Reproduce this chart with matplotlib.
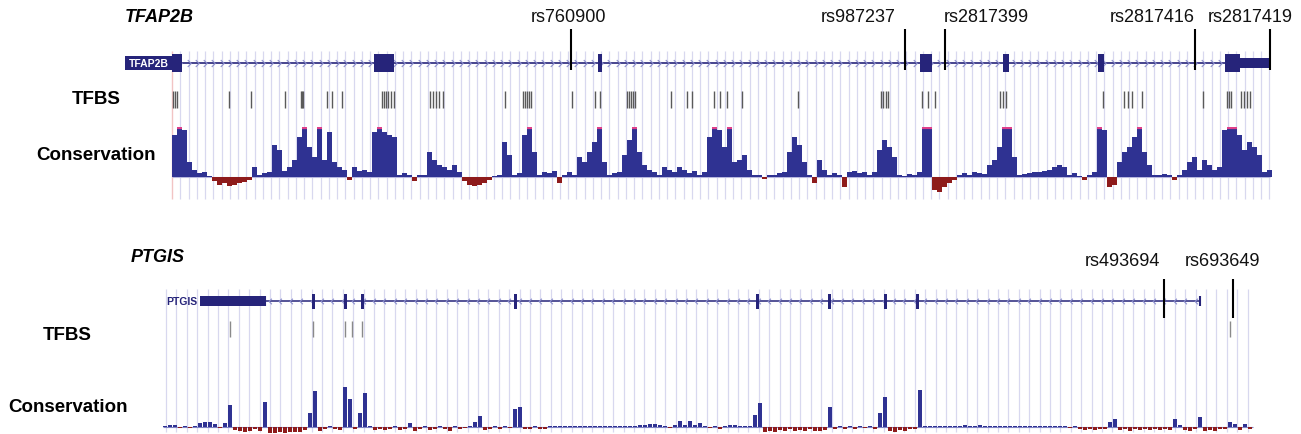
import numpy as np
import matplotlib
matplotlib.use('Agg')
import matplotlib.pyplot as plt
from matplotlib.path import Path

plt.rcParams['font.family'] = ['Liberation Sans', 'DejaVu Sans']

W, H = 1301, 435

# ---------------- data (track position units) ----------------
# TFAP2B
tf_region = (172, 1270)
tf_exons = [(172, 10), (374, 20), (598, 4), (920, 12), (1003, 6), (1098, 6), (1225, 15)]
tf_utr = [(1240, 30)]
tf_snp_names = ['rs760900', 'rs987237', 'rs2817399', 'rs2817416', 'rs2817419']
tf_snp_pos = [571, 905, 945, 1195, 1270]
tf_tfbs = [173, 175, 177, 229, 251, 285, 301, 302, 303, 327, 332, 342,
           382, 384, 386, 388, 391, 394, 430, 433, 436, 439, 443, 505,
           523, 525, 527, 529, 531, 572, 595, 600, 627, 629, 631, 633, 635,
           671, 687, 692, 714, 720, 727, 742, 798, 881, 883, 886, 888,
           922, 928, 935, 1000, 1003, 1006, 1103, 1124, 1128, 1132, 1142,
           1203, 1227, 1229, 1231, 1241, 1244, 1247, 1250]
tf_cons_start = 172
tf_cons_bin = 5
tf_cons = [0.85, 1.0, 0.95, 0.3, 0.15, 0.08, 0.1, 0.03, -0.08, -0.15,
           -0.12, -0.18, -0.15, -0.12, -0.1, -0.05, 0.2, 0.05, 0.08, 0.1,
           0.65, 0.55, 0.12, 0.2, 0.35, 0.8, 1.0, 0.6, 0.4, 1.0,
           0.35, 0.9, 0.3, 0.2, 0.15, -0.05, 0.2, 0.12, 0.15, 0.1,
           0.9, 1.0, 0.9, 0.85, 0.8, 0.05, 0.08, 0.05, -0.08, 0.05,
           0.04, 0.5, 0.35, 0.25, 0.2, 0.15, 0.25, 0.1, -0.08, -0.15,
           -0.18, -0.15, -0.12, -0.05, 0.03, 0.05, 0.7, 0.45, 0.05, 0.08,
           0.85, 1.0, 0.5, 0.05, 0.1, 0.08, 0.12, -0.12, 0.05, 0.1,
           0.05, 0.4, 0.3, 0.5, 0.7, 1.0, 0.3, 0.05, 0.08, 0.1,
           0.45, 0.75, 1.0, 0.5, 0.25, 0.15, 0.1, 0.05, 0.2, 0.15,
           0.1, 0.2, 0.15, 0.08, 0.12, 0.05, 0.1, 0.8, 1.0, 0.95,
           0.6, 1.0, 0.3, 0.35, 0.45, 0.15, 0.05, 0.05, -0.03, 0.04,
           0.05, 0.08, 0.1, 0.5, 0.8, 0.65, 0.3, 0.05, -0.12, 0.35,
           0.15, 0.05, 0.08, 0.05, -0.2, 0.1, 0.12, 0.08, 0.1, 0.05,
           0.1, 0.55, 0.75, 0.6, 0.4, 0.05, 0.03, 0.06, 0.05, 0.1,
           1.0, 1.0, -0.25, -0.3, -0.2, -0.12, -0.05, 0.05, 0.08, 0.05,
           0.1, 0.08, 0.06, 0.25, 0.35, 0.6, 1.0, 1.0, 0.4, 0.05,
           0.06, 0.08, 0.1, 0.1, 0.12, 0.15, 0.2, 0.25, 0.2, 0.05,
           0.08, 0.03, -0.05, 0.05, 0.1, 1.0, 0.95, -0.2, -0.15, 0.3,
           0.5, 0.6, 0.8, 1.0, 0.5, 0.25, 0.05, 0.04, 0.06, 0.05,
           -0.05, 0.05, 0.15, 0.3, 0.4, 0.15, 0.35, 0.25, 0.15, 0.2,
           0.95, 1.0, 1.0, 0.85, 0.55, 0.7, 0.6, 0.45, 0.1, 0.15]

# PTGIS
pt_region = (200, 1200)
pt_utr = [(200, 65)]
pt_exons = [313, 345, 362, 515, 757, 829, 885, 917]
pt_snp_names = ['rs493694', 'rs693649']
pt_snp_pos = [1164, 1233]
pt_tfbs = [230, 313, 345, 352, 362, 1230]
pt_cons_start = 163
pt_cons_bin = 5
pt_cons = [0.02, 0.05, 0.04, -0.03, 0.02, -0.02, 0.02, 0.1, 0.12, 0.12,
           0.08, -0.03, 0.1, 0.55, -0.08, -0.1, -0.12, -0.1, -0.06, -0.1,
           0.62, -0.14, -0.15, -0.13, -0.15, -0.12, -0.13, -0.12, -0.08, 0.35,
           0.9, -0.1, -0.06, 0.03, -0.06, -0.08, 1.0, 0.7, -0.05, 0.35,
           0.85, 0.03, -0.07, -0.05, -0.08, -0.06, 0.03, -0.08, -0.04, 0.1,
           -0.1, -0.04, 0.02, -0.08, -0.05, 0.03, -0.06, -0.1, 0.02, -0.06,
           -0.03, 0.03, 0.12, 0.28, -0.08, -0.05, 0.02, -0.04, 0.03, -0.03,
           0.45, 0.5, -0.06, -0.05, 0.02, -0.05, -0.04, 0.03, 0.02, 0.03,
           0.02, 0.03, 0.02, 0.03, 0.03, 0.02, 0.03, 0.03, 0.02, 0.03,
           0.03, 0.02, 0.03, 0.02, 0.03, 0.04, 0.06, 0.08, 0.07, 0.05,
           0.03, -0.03, 0.05, 0.15, 0.04, 0.15, 0.05, 0.1, 0.02, -0.03,
           0.02, -0.04, 0.03, 0.05, 0.04, 0.02, 0.03, 0.02, 0.3, 0.6,
           -0.12, -0.1, -0.12, -0.08, -0.1, -0.06, -0.1, -0.07, -0.1, -0.06,
           -0.09, -0.1, -0.08, 0.5, -0.05, 0.02, -0.04, 0.03, -0.05, 0.02,
           -0.03, 0.03, -0.06, 0.35, 0.75, -0.1, -0.12, -0.08, -0.1, -0.06,
           -0.05, 0.92, 0.03, 0.02, 0.03, 0.02, 0.03, 0.03, 0.02, 0.03,
           0.04, 0.03, 0.02, 0.04, 0.03, 0.03, 0.02, 0.03, 0.02, 0.03,
           0.03, 0.02, 0.02, 0.03, 0.02, 0.03, 0.02, 0.02, 0.03, 0.02,
           0.02, -0.03, 0.02, -0.05, -0.08, -0.05, -0.07, -0.04, -0.06, 0.12,
           0.2, -0.08, -0.06, -0.09, -0.05, -0.08, -0.06, -0.08, -0.05, -0.07,
           -0.04, -0.08, 0.2, 0.05, -0.08, -0.1, -0.06, 0.25, -0.1, -0.08,
           -0.1, -0.06, -0.04, 0.12, 0.08, -0.08, 0.07, -0.05]

# ---------------- style ----------------
NAVY = '#26247a'
CONS_POS = '#2f3292'
CONS_NEG = '#8e1b1b'
GRID = '#d8d8ef'
CHEV = '#8c8fcc'
SAT = '#e0408a'

fig = plt.figure(figsize=(W / 100, H / 100), dpi=100)


def px_axes(x0, y0, x1, y1):
    ax = fig.add_axes([x0 / W, 1 - y1 / H, (x1 - x0) / W, (y1 - y0) / H])
    ax.set_axis_off()
    ax.patch.set_alpha(0)
    return ax


def ftext(x, y, s, **kw):
    fig.text(x / W, 1 - y / H, s, **kw)


chev_right = Path([(-0.5, 1), (0.5, 0), (-0.5, -1)], [Path.MOVETO, Path.LINETO, Path.LINETO])
chev_left = Path([(0.5, 1), (-0.5, 0), (0.5, -1)], [Path.MOVETO, Path.LINETO, Path.LINETO])

# ================= TFAP2B panel =================
ax = px_axes(0, 0, W, 215)
ax.set_xlim(0, W)
ax.set_ylim(215, 0)
grid_tf = np.arange(tf_region[0] + 8.25, tf_region[1] + 1, 8.25)
ax.vlines(grid_tf, 52, 200, color=GRID, lw=0.9, zorder=0)
ax.vlines(tf_region[0], 52, 200, color='#f2c4c4', lw=1.0, zorder=0)
# gene
ax.hlines(64, tf_region[0], tf_region[1], color=NAVY, lw=1.2, zorder=2)
chev_x = grid_tf[grid_tf < tf_region[1] - 30]
ax.plot(chev_x, np.full(len(chev_x), 64),
        ls='none', marker=chev_right, ms=5, mfc='none', mec=CHEV, mew=0.8, zorder=2)
ax.broken_barh(tf_exons, (55, 18), facecolor=NAVY, edgecolor='none', zorder=3)
ax.broken_barh(tf_utr, (59, 10), facecolor=NAVY, edgecolor='none', zorder=3)
ax.broken_barh([(125, 47)], (57, 14), facecolor=NAVY, edgecolor='none', zorder=3)
ax.text(148.5, 64.5, 'TFAP2B', color='white', fontsize=7.5, fontweight='bold',
        ha='center', va='center', zorder=4)
# SNPs
ax.vlines(tf_snp_pos, 30, 71, color='black', lw=1.5, zorder=5)
tf_label_x = [568, 858, 986, 1152, 1250]
for name, lx in zip(tf_snp_names, tf_label_x):
    ax.text(lx, 17, name, fontsize=13, ha='center', va='center', color='#111111')
# TFBS
ax.vlines(tf_tfbs, 92, 109, color='#5a5a5a', lw=1.0, zorder=2)

# conservation
axc = px_axes(0, 128, W, 196)
axc.set_xlim(0, W)
axc.set_ylim(-0.36, 1.0)
vals = np.array(tf_cons)
xs = tf_cons_start + tf_cons_bin * np.arange(len(vals))
axc.bar(xs, vals, width=tf_cons_bin, align='edge', linewidth=0,
        color=np.where(vals >= 0, CONS_POS, CONS_NEG), zorder=2)
sat = vals >= 1.0
axc.hlines(np.full(sat.sum(), 0.985), xs[sat], xs[sat] + tf_cons_bin, color=SAT, lw=1.6, zorder=3)
axc.hlines(0, tf_region[0], tf_region[1], color='#b7b7de', lw=0.8, zorder=1)

ftext(125, 18, 'TFAP2B', fontsize=13, fontweight='bold', fontstyle='italic', va='center')
ftext(72, 100, 'TFBS', fontsize=13.5, fontweight='bold', va='center')
ftext(36, 156, 'Conservation', fontsize=13.5, fontweight='bold', va='center')

# ================= PTGIS panel =================
ax2 = px_axes(0, 215, W, H)
ax2.set_xlim(0, W)
ax2.set_ylim(H, 215)
grid_pt = np.arange(166, 1252, 10.4)
ax2.vlines(grid_pt, 290, 433, color=GRID, lw=0.9, zorder=0)
ax2.hlines(302, pt_region[0], pt_region[1], color=NAVY, lw=1.1, zorder=2)
inside = (grid_pt > pt_region[0] + 65) & (grid_pt < pt_region[1])
ax2.plot(grid_pt[inside], np.full(inside.sum(), 302), ls='none', marker=chev_left,
         ms=4, mfc='none', mec=CHEV, mew=0.8, zorder=2)
ax2.broken_barh(pt_utr, (297, 10), facecolor=NAVY, edgecolor='none', zorder=3)
ax2.broken_barh([(e - 1.5, 3) for e in pt_exons], (295, 15), facecolor=NAVY,
                edgecolor='none', zorder=3)
ax2.vlines([pt_region[0] + 65, pt_region[1]], 297, 307, color=NAVY, lw=1.5, zorder=3)
ax2.text(181.5, 302, 'PTGIS', color=NAVY, fontsize=7.5, fontweight='bold',
         ha='center', va='center')
ax2.vlines(pt_snp_pos, 280, 319, color='black', lw=1.5, zorder=5)
pt_label_x = [1122, 1223]
for name, lx in zip(pt_snp_names, pt_label_x):
    ax2.text(lx, 262, name, fontsize=13, ha='center', va='center', color='#111111')
ax2.vlines(pt_tfbs, 322, 338, color='#8a8a8a', lw=1.0, zorder=2)

axc2 = px_axes(0, 388, W, H)
axc2.set_xlim(0, W)
axc2.set_ylim(-0.175, 1.0)
v2 = np.array(pt_cons)
x2 = pt_cons_start + pt_cons_bin * np.arange(len(v2))
axc2.bar(x2, v2, width=pt_cons_bin * 0.8, align='edge', linewidth=0,
         color=np.where(v2 >= 0, CONS_POS, CONS_NEG), zorder=2)
axc2.hlines(0, pt_cons_start, x2[-1] + pt_cons_bin, color='#7f82c4', lw=0.8, zorder=1)

ftext(131, 258, 'PTGIS', fontsize=13, fontweight='bold', fontstyle='italic', va='center')
ftext(43, 336, 'TFBS', fontsize=13.5, fontweight='bold', va='center')
ftext(8, 408, 'Conservation', fontsize=13.5, fontweight='bold', va='center')

fig.savefig('out.png', dpi=100)
